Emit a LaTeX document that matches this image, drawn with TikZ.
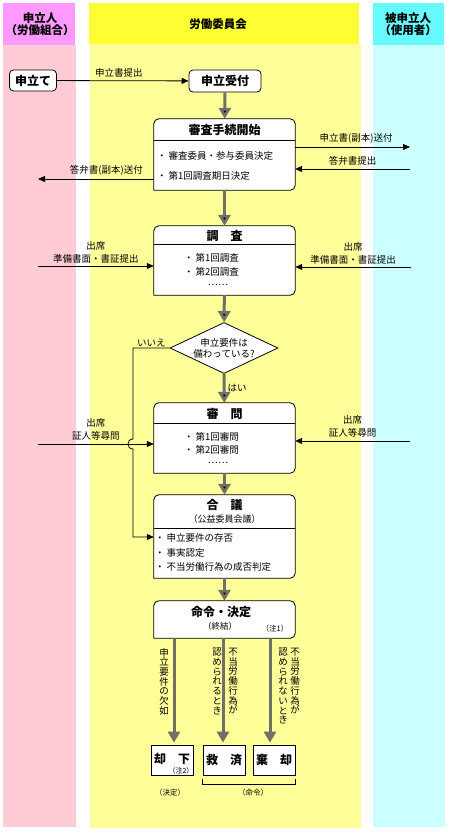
\documentclass[tikz,border=0pt]{standalone}
\usepackage{fontspec}
\setmainfont{Noto Sans CJK JP}
\usepackage{xcolor}
\usepackage{tikz}
\usetikzlibrary{
	arrows.meta,shapes.geometric
}

\definecolor{unionhead}{RGB}{255,153,255}
\definecolor{unionbody}{RGB}{255,204,214}
\definecolor{boardhead}{RGB}{255,255,51}
\definecolor{boardbody}{RGB}{255,255,153}
\definecolor{emphead}{RGB}{102,250,255}
\definecolor{empbody}{RGB}{204,255,255}
\definecolor{flowgray}{RGB}{112,112,100}

\newcommand{\itembul}{・\hspace{2pt}}

\tikzset{
	lanehead/.style={font=\fontsize{11.5}{12.5}\selectfont\bfseries, align=center, inner sep=0pt},
	lbl/.style={font=\fontsize{9.5}{13.5}\selectfont, inner sep=0pt, align=center},
	item/.style={font=\fontsize{9.5}{12}\selectfont, inner sep=0pt, anchor=west},
	ttl/.style={font=\fontsize{12}{14}\selectfont\bfseries, inner sep=0pt},
	note/.style={font=\fontsize{7.5}{9}\selectfont, inner sep=0pt},
	vlbl/.style={font=\fontsize{9.5}{9.7}\selectfont, inner sep=0pt, align=center, anchor=north},
	startbox/.style={draw, line width=0.8pt, fill=white, rounded corners=4pt, minimum width=47pt,
		minimum height=21pt, inner sep=0pt, font=\fontsize{12}{14}\selectfont\bfseries},
	stepbox/.style={rectangle, minimum width=141pt, inner sep=0pt},
	endbox/.style={draw, line width=0.8pt, fill=white, minimum width=42pt, minimum height=30pt,
		inner sep=0pt, font=\fontsize{12}{14}\selectfont\bfseries},
	decision/.style={diamond, draw, line width=0.8pt, fill=white, minimum width=108pt,
		minimum height=51pt, inner sep=0pt},
	frame/.style={draw, line width=0.8pt, fill=white},
	msg/.style={-{Triangle[length=7pt,width=6pt]}, line width=0.8pt},
	flow/.style={-{Triangle[length=11pt,width=12pt]}, line width=3pt, draw=flowgray}
}

\begin{document}
\begin{tikzpicture}[x=1pt,y=-1pt]
	\useasboundingbox (0,0) rectangle (449,833);
	\fill[white] (0,0) rectangle (449,833);
	% lanes
	\fill[unionbody] (3,45) rectangle (76,827);
	\fill[unionhead] (3,3) rectangle (75,45);
	\fill[boardbody] (90,44) rectangle (361,828);
	\fill[boardhead] (89,3) rectangle (359,44);
	\fill[empbody] (373,45) rectangle (445,827);
	\fill[emphead] (373,3) rectangle (444,45);
	\node[lanehead] (union) at (40,24) {申立人\\（労働組合）};
	\node[lanehead] (board) at (218,24) {労働委員会};
	\node[lanehead] (employer) at (408,24) {被申立人\\（使用者）};
	% nodes
	\node[startbox] (moshitate) at (33,80.5) {申立て};
	\node[startbox, minimum width=72pt, minimum height=22pt] (uketsuke) at (225,81) {申立受付};
	\node[stepbox, minimum height=71pt] (kaishi) at (224.5,154.5) {};
	\node[stepbox, minimum height=69pt] (chosa) at (224.5,260.5) {};
	\node[decision] (yoken) at (224,348) {};
	\node[stepbox, minimum height=70pt] (shinmon) at (224.5,438) {};
	\node[stepbox, minimum height=83pt] (gogi) at (224.5,536.5) {};
	\node[stepbox, minimum height=37pt] (meirei) at (224.5,619.5) {};
	\node[endbox] (kyakka) at (172,760) {};
	\node[endbox] (kyusai) at (224,760) {救　済};
	\node[endbox] (kikyaku) at (274,760) {棄　却};
	% frames
	\foreach \b in {kaishi,chosa,shinmon,gogi,meirei}
		\draw[frame] (\b.south west) [rounded corners=5pt] -- (\b.north west) -- (\b.north east)
			-- (\b.south east) [sharp corners] -- cycle;
	\foreach \b/\h in {kaishi/22,chosa/19,shinmon/21,gogi/34}
		\draw[line width=0.8pt] ([yshift=-\h]\b.north west) -- ([yshift=-\h]\b.north east);
	% texts in boxes
	\node[ttl] (kaishiT) at (224.5,130) {審査手続開始};
	\node[item] (kaishi1) at (157,156) {\itembul 審査委員・参与委員決定};
	\node[item] (kaishi2) at (157,176) {\itembul 第1回調査期日決定};
	\node[ttl] (chosaT) at (224.5,235.5) {調　査};
	\node[item] (chosa1) at (184,258) {\itembul 第1回調査};
	\node[item] (chosa2) at (184,272) {\itembul 第2回調査};
	\node[lbl] (chosa3) at (218,285) {……};
	\node[lbl, font=\fontsize{9.5}{11}\selectfont] (yokenT) at (224,348) {申立要件は\\備わっている?};
	\node[ttl] (shinmonT) at (224.5,413.5) {審　問};
	\node[item] (shinmon1) at (184,437) {\itembul 第1回審問};
	\node[item] (shinmon2) at (184,450) {\itembul 第2回審問};
	\node[lbl] (shinmon3) at (218,463) {……};
	\node[ttl] (gogiT) at (224.5,505) {合　議};
	\node[lbl, font=\fontsize{9}{11}\selectfont] (gogiS) at (224.5,519) {（公益委員会議）};
	\node[item] (gogi1) at (155,538) {\itembul 申立要件の存否};
	\node[item] (gogi2) at (155,553) {\itembul 事実認定};
	\node[item] (gogi3) at (155,567) {\itembul 不当労働行為の成否判定};
	\node[ttl] (meireiT) at (221,612) {命令・決定};
	\node[note, font=\fontsize{8.5}{10}\selectfont] (meireiS) at (220,626) {（終結）};
	\node[note] (chu1) at (275,629) {（注1）};
	\node[ttl] (kyakkaT) at (172,759) {却　下};
	\node[note, font=\fontsize{7}{8}\selectfont] (chu2) at (181,770.5) {（注2）};
	% vertical labels
	\node[vlbl] (v1) at (164,648) {申\\立\\要\\件\\の\\欠\\如};
	\node[vlbl] (v2) at (233,648) {不\\当\\労\\働\\行\\為\\が};
	\node[vlbl] (v3) at (217,648) {認\\め\\ら\\れ\\る\\と\\き};
	\node[vlbl] (v4) at (295,648) {不\\当\\労\\働\\行\\為\\が};
	\node[vlbl] (v5) at (283,648) {認\\め\\ら\\れ\\な\\い\\と\\き};
	% bracket
	\draw[line width=0.8pt] ([yshift=-4]kyusai.south west) -- ([yshift=-9]kyusai.south west)
		-- ([yshift=-9]kikyaku.south east) -- ([yshift=-4]kikyaku.south east);
	\node[note] (kettei) at (170,793) {（決定）};
	\node[note] (meireiB) at (253,793) {（命令）};
	%
	\coordinate (sendR) at (410,147);
	\coordinate (answerR) at (410,169);
	\coordinate (answerL) at (38,179);
	\coordinate (prepL) at (38,266);
	\coordinate (prepR) at (411,267);
	\coordinate (hearL) at (38,444);
	\coordinate (hearR) at (410,441);
	\coordinate (noback) at (133,537);
	\coordinate (hopA) at (133,439);
	\coordinate (hopB) at (133,449);
	\coordinate (outA) at (174,638);
	\coordinate (outB) at (223,638);
	\coordinate (outC) at (270,638);
	% gray arrows
	\path[flow]
	(uketsuke) edge (kaishi)
	(kaishi) edge (chosa)
	(chosa) edge (yoken)
	(yoken) edge node[lbl, right=2pt]{はい} (shinmon)
	(shinmon) edge (gogi)
	(gogi) edge (meirei);
	\draw[flow, shorten >=2pt] (outA) -- (outA |- kyakka.north);
	\draw[flow, shorten >=2pt] (outB) -- (outB |- kyusai.north);
	\draw[flow, shorten >=2pt] (outC) -- (outC |- kikyaku.north);
	% black arrows
	\path[msg]
	(moshitate) edge node[lbl, above=3pt, pos=.47]{申立書提出} (uketsuke)
	(kaishi.east |- sendR) edge node[lbl, above=3pt, pos=.53]{申立書(副本)送付} (sendR)
	(answerR) edge node[lbl, above=3pt]{答弁書提出} (kaishi.east |- answerR)
	(kaishi.west |- answerL) edge node[lbl, above=3pt, pos=.41]{答弁書(副本)送付} (answerL)
	(prepL) edge node[lbl, above=2pt]{出席\\準備書面・書証提出} (chosa.west |- prepL)
	(prepR) edge node[lbl, above=2pt]{出席\\準備書面・書証提出} (chosa.east |- prepR)
	(hearL) edge node[lbl, above=3pt]{出席\\証人等尋問} (shinmon.west |- hearL)
	(hearR) edge node[lbl, above=3pt]{出席\\証人等尋問} (shinmon.east |- hearR);
	\draw[msg] (yoken.west) -- node[lbl, above=1pt]{いいえ} (yoken.west -| noback) -- (hopA)
		.. controls +(-6.7,0) and +(-6.7,0) .. (hopB) -- (noback) -- (gogi.west |- noback);
\end{tikzpicture}
\end{document}
